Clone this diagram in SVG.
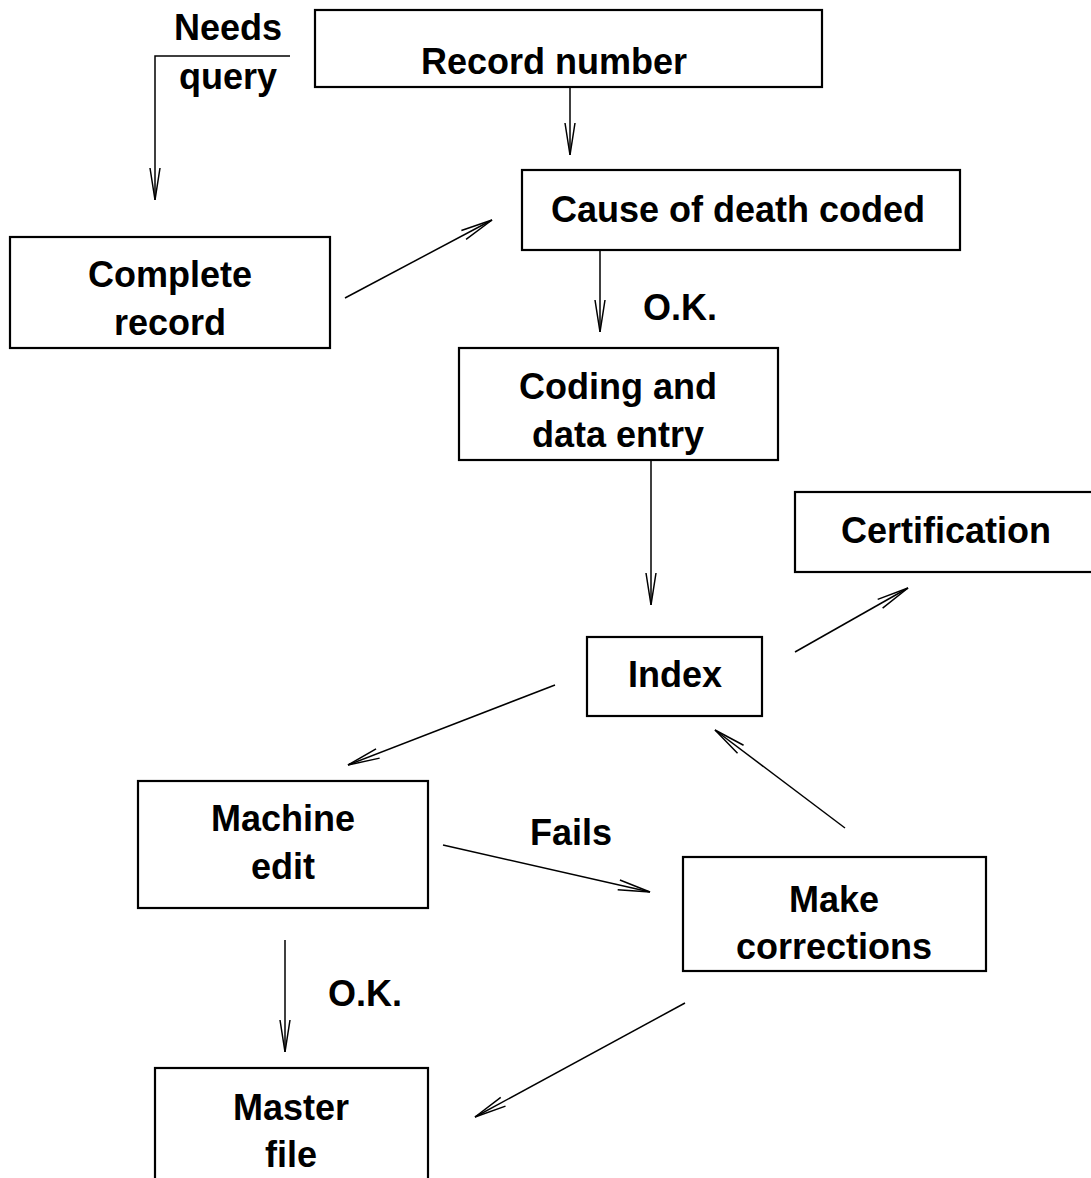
<svg xmlns="http://www.w3.org/2000/svg" width="1091" height="1178" viewBox="0 0 1091 1178">
<defs>
<style>
.box{fill:#fff;stroke:#000;stroke-width:2.2}
.t{font-family:"Liberation Sans",Arial,sans-serif;font-weight:bold;font-size:36px;text-anchor:middle;fill:#000}
.c{fill:none;stroke:#000;stroke-width:1.5}
</style>
<marker id="ah" markerUnits="userSpaceOnUse" markerWidth="40" markerHeight="20" viewBox="-34 -10 40 20" refX="0" refY="0" orient="auto" overflow="visible">
<path d="M-32,-5 L0,0 L-32,5" fill="none" stroke="#000" stroke-width="1.5"/>
</marker>
</defs>
<rect width="1091" height="1178" fill="#fff"/>
<g id="connectors">
<polyline class="c" points="290,56 155,56 155,200" marker-end="url(#ah)"/>
<line class="c" x1="570" y1="87" x2="570" y2="155" marker-end="url(#ah)"/>
<line class="c" x1="345" y1="298" x2="492" y2="220" marker-end="url(#ah)"/>
<line class="c" x1="600" y1="250" x2="600" y2="332" marker-end="url(#ah)"/>
<line class="c" x1="651" y1="460" x2="651" y2="605" marker-end="url(#ah)"/>
<line class="c" x1="795" y1="652" x2="908" y2="588" marker-end="url(#ah)"/>
<line class="c" x1="555" y1="685" x2="348" y2="765" marker-end="url(#ah)"/>
<line class="c" x1="443" y1="845" x2="650" y2="892" marker-end="url(#ah)"/>
<line class="c" x1="845" y1="828" x2="715" y2="730" marker-end="url(#ah)"/>
<line class="c" x1="285" y1="940" x2="285" y2="1052" marker-end="url(#ah)"/>
<line class="c" x1="685" y1="1003" x2="475" y2="1117" marker-end="url(#ah)"/>
<text class="t" x="228" y="40">Needs</text>
<text class="t" x="228" y="89">query</text>
<text class="t" x="680" y="320">O.K.</text>
<text class="t" x="571" y="845">Fails</text>
<text class="t" x="365" y="1006">O.K.</text>
</g>
<g id="record-number"><rect class="box" x="315" y="10" width="507" height="77"/><text class="t" x="554" y="74">Record number</text></g>
<g id="cause-of-death"><rect class="box" x="522" y="170" width="438" height="80"/><text class="t" x="738" y="222">Cause of death coded</text></g>
<g id="complete-record"><rect class="box" x="10" y="237" width="320" height="111"/><text class="t" x="170" y="287">Complete</text><text class="t" x="170" y="335">record</text></g>
<g id="coding"><rect class="box" x="459" y="348" width="319" height="112"/><text class="t" x="618" y="399">Coding and</text><text class="t" x="618" y="447">data entry</text></g>
<g id="certification"><rect class="box" x="795" y="492" width="300" height="80"/><text class="t" x="946" y="543">Certification</text></g>
<g id="index"><rect class="box" x="587" y="637" width="175" height="79"/><text class="t" x="675" y="687">Index</text></g>
<g id="machine-edit"><rect class="box" x="138" y="781" width="290" height="127"/><text class="t" x="283" y="831">Machine</text><text class="t" x="283" y="879">edit</text></g>
<g id="make-corrections"><rect class="box" x="683" y="857" width="303" height="114"/><text class="t" x="834" y="912">Make</text><text class="t" x="834" y="959">corrections</text></g>
<g id="master-file"><rect class="box" x="155" y="1068" width="273" height="130"/><text class="t" x="291" y="1120">Master</text><text class="t" x="291" y="1167">file</text></g>
</svg>
